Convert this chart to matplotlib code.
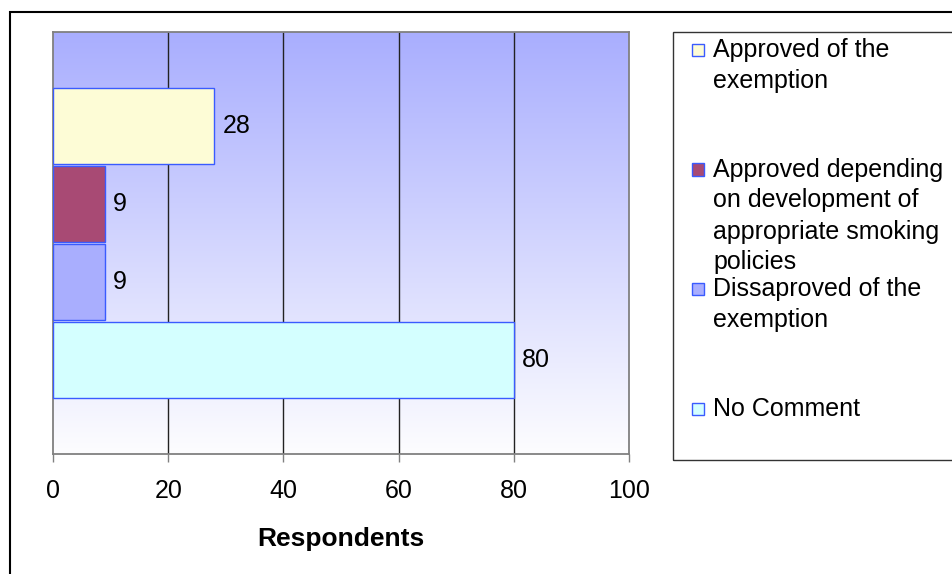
import numpy as np
import matplotlib.pyplot as plt
from matplotlib.patches import Rectangle

plt.rcParams['font.family'] = ['Liberation Sans', 'DejaVu Sans']

# Survey responses on the exemption
series = [
    "Approved of the\nexemption",
    "Approved depending\non development of\nappropriate smoking\npolicies",
    "Dissaproved of the\nexemption",
    "No Comment",
]
respondents = [28, 9, 9, 80]
bar_colors = ["#FDFCD6", "#A84A74", "#A9AEFE", "#D4FFFF"]
x_ticks = [0, 20, 40, 60, 80, 100]

W, H = 952, 574
fig = plt.figure(figsize=(W / 100, H / 100), dpi=100)
fig.patch.set_facecolor("white")


def fx(px):
    return px / W


def fy(py):
    return 1 - py / H


ax = fig.add_axes([fx(53), fy(454), fx(629) - fx(53), fy(32) - fy(454)])

# vertical gradient fill of the plot area: lavender at top fading to white
grad = np.linspace(0, 1, 256)[:, None, None]
top = np.array([169, 174, 254]) / 255
bottom = np.array([253, 253, 255]) / 255
img = top + (bottom - top) * grad
ax.imshow(img, extent=[0, 1, 0, 1], transform=ax.transAxes,
          aspect="auto", zorder=0, interpolation="bilinear")

# one category, four adjacent bars
n = len(respondents)
step = 78 / 422
height = 76 / 422
offsets = (np.arange(n) - (n - 1) / 2) * step
bars = ax.barh(offsets, respondents, height=height, color=bar_colors,
               edgecolor="#3A5BFF", linewidth=1, zorder=3)
ax.bar_label(bars, labels=[str(v) for v in respondents], padding=6,
             fontsize=18, color="black")

ax.set_xlim(x_ticks[0], x_ticks[-1])
ax.set_ylim(0.5, -0.5)
ax.set_xticks(x_ticks)
ax.set_yticks([])
ax.vlines(x_ticks[1:-1], 0.5, -0.5, colors="#222222", linewidth=1, zorder=1)

for side in ["left", "right", "top", "bottom"]:
    ax.spines[side].set_color("#808080")
    ax.spines[side].set_linewidth(1.3)

ax.tick_params(axis="x", length=6, width=1, color="#808080", pad=12,
               labelsize=18, labelcolor="black")
ax.set_xlabel("Respondents", fontsize=19, fontweight="bold", labelpad=17)

# outer chart frame
fig.add_artist(Rectangle((fx(10), -0.1), 1.2, fy(12) + 0.1,
                         transform=fig.transFigure, fill=False,
                         edgecolor="black", linewidth=1.5))

# legend box with each marker aligned on its entry's first line
fig.add_artist(Rectangle((fx(673), fy(460)), 1, fy(32) - fy(460),
                         transform=fig.transFigure, fill=False,
                         edgecolor="#333333", linewidth=1))
baseline0 = 57
entry_gap = 119.5
line_gap = 31
for i, (label, color) in enumerate(zip(series, bar_colors)):
    base = baseline0 + entry_gap * i
    fig.add_artist(Rectangle((fx(692), fy(base - 1)), fx(12), fy(base - 13) - fy(base - 1),
                             transform=fig.transFigure, facecolor=color,
                             edgecolor="#3A5BFF", linewidth=1))
    for j, line in enumerate(label.split("\n")):
        fig.text(fx(713), fy(base + j * line_gap), line, fontsize=18,
                 va="baseline", ha="left", color="black")

fig.savefig("out.png", dpi=100)
